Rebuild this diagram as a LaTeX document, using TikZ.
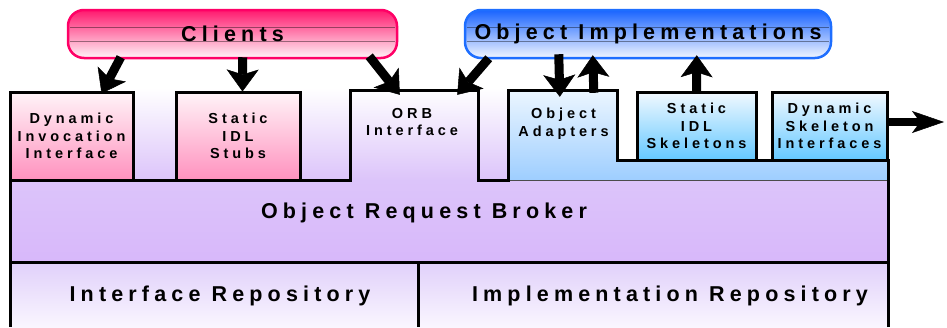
\documentclass[tikz,border=0pt]{standalone}
\usepackage{fontspec}
\setmainfont{Liberation Sans}
\newfontfamily\biglbl{Liberation Sans}[LetterSpace=24]
\newfontfamily\boxlbl{Liberation Sans}[LetterSpace=27]
\usetikzlibrary{arrows.meta,calc}

\definecolor{clientpink}{RGB}{255,0,102}
\definecolor{clienttop}{RGB}{255,25,110}
\definecolor{clientpale}{RGB}{255,244,248}
\definecolor{implblue}{RGB}{30,110,255}
\definecolor{impltop}{RGB}{25,100,255}
\definecolor{implpale}{RGB}{242,246,255}
\definecolor{stubpink}{RGB}{255,145,190}
\definecolor{stubpale}{RGB}{255,244,248}
\definecolor{skelblue}{RGB}{100,200,255}
\definecolor{skelpale}{RGB}{242,249,255}
\definecolor{adaptpale}{RGB}{236,246,255}
\definecolor{adaptblue}{RGB}{158,206,255}
\definecolor{lavlight}{RGB}{220,196,250}
\definecolor{lavmid}{RGB}{196,144,250}
\definecolor{lavlow}{RGB}{216,184,250}
\definecolor{repotop}{RGB}{224,208,250}
\definecolor{repobot}{RGB}{250,246,255}

\tikzset{
  bubble/.style={draw, line width=2.5pt, rounded corners=16pt, inner sep=0pt,
    font=\biglbl\bfseries\fontsize{21.5}{25}\selectfont},
  clientbubble/.style={bubble, draw=clientpink, top color=clienttop, bottom color=clientpale},
  implbubble/.style={bubble, draw=implblue, top color=impltop, bottom color=implpale},
  seam/.style={line width=0.7pt, black, opacity=0.4},
  boxtext/.style={align=center, inner sep=0pt,
    font=\boxlbl\bfseries\fontsize{14.5}{17.5}\selectfont},
  stubbox/.style={boxtext, draw, line width=3pt, top color=stubpale, bottom color=stubpink},
  skelbox/.style={boxtext, draw, line width=3pt, top color=skelpale, bottom color=skelblue},
  region/.style={inner sep=0pt},
  bandtext/.style={inner sep=0pt, font=\biglbl\bfseries\fontsize{21.5}{25}\selectfont},
  outline/.style={line width=3pt, line join=miter},
  fatarrow/.style={line width=9pt,
    -{Stealth[width=32pt,length=22pt,inset=5pt,line width=0.5pt]}},
  sidearrow/.style={line width=8pt,
    -{Stealth[width=22pt,length=32pt,inset=8pt,line width=0.5pt]}},
}

\begin{document}
\begin{tikzpicture}[x=1pt,y=-1pt]
\useasboundingbox (0,0) rectangle (947,327);

% shaded layers of the broker
\shade[top color=white, bottom color=lavlight] (10,88) rectangle (508,180);
\shade[top color=lavlight, middle color=lavmid, bottom color=lavlow] (10,180) rectangle (888,262);
\shade[top color=repotop, bottom color=repobot] (10,262) rectangle (888,327);
\shade[top color=adaptpale, bottom color=adaptblue]
  (508,90) -- (617,90) -- (617,160) -- (888,160) -- (888,180) -- (508,180) -- cycle;
\draw[line width=0.8pt, black!70] (508,180) -- (888,180);

% outline of the broker with the ORB interface and object adapter tabs
\draw[outline] (10,327) -- (10,180) -- (350,180) -- (350,90) -- (478,90) -- (478,180)
  -- (508,180) -- (508,90) -- (617,90) -- (617,160) -- (888,160) -- (888,327);
\draw[outline] (10,262) -- (888,262);
\draw[outline] (418,262) -- (418,327);

% regions carrying labels
\node[region, minimum width=128pt, minimum height=90pt] (orbif) at (414,135) {};
\node[region, minimum width=109pt, minimum height=90pt] (adapt) at (562.5,135) {};
\node[boxtext, anchor=north] at ([xshift=-2pt,yshift=-18pt]orbif.north) {ORB\\Interface};
\node[boxtext, anchor=north] at ([xshift=1pt,yshift=-18pt]adapt.north) {Object\\Adapters};

\node[bandtext] (orb) at (424,213) {Object Request Broker};
\node[bandtext] (ifr) at (220,296) {Interface Repository};
\node[bandtext] (imr) at (670,296) {Implementation Repository};

% client-side and server-side boxes
\node[stubbox, minimum width=123pt, minimum height=88pt] (dii) at (71.5,136) {Dynamic\\Invocation\\Interface};
\node[stubbox, minimum width=124pt, minimum height=88pt] (stubs) at (238,136) {Static\\IDL\\Stubs};
\node[skelbox, minimum width=119pt, minimum height=68pt] (skel) at (696.5,126) {Static\\IDL\\Skeletons};
\node[skelbox, minimum width=115pt, minimum height=68pt] (dskel) at (829.5,126) {Dynamic\\Skeleton\\Interfaces};

% top bubbles
\node[clientbubble, minimum width=329pt, minimum height=48pt] (clients) at (232.5,34) {Clients};
\node[implbubble, minimum width=366pt, minimum height=48pt] (impl) at (648,34) {Object Implementations};
\draw[seam] ($(clients.north west)+(3,19)$) -- ($(clients.north east)+(-3,19)$);
\draw[seam] ($(clients.north west)+(3,33)$) -- ($(clients.north east)+(-3,33)$);
\draw[seam] ($(impl.north west)+(3,19)$) -- ($(impl.north east)+(-3,19)$);
\draw[seam] ($(impl.north west)+(3,33)$) -- ($(impl.north east)+(-3,33)$);

% request and upcall arrows
\draw[fatarrow] ([xshift=54pt,yshift=2pt]clients.south west) -- ([xshift=93pt,yshift=-3pt]dii.north west);
\draw[fatarrow] ([xshift=176pt,yshift=2pt]clients.south west) -- ([xshift=68pt,yshift=-1pt]stubs.north west);
\draw[fatarrow] ([xshift=-29pt,yshift=3pt]clients.south east) -- ([xshift=50pt,yshift=-5pt]orbif.north west);
\draw[fatarrow] ([xshift=25pt,yshift=1pt]impl.south west) -- ([xshift=-21pt,yshift=-5pt]orbif.north east);
\draw[fatarrow] ([xshift=95pt,yshift=5pt]impl.south west) -- ([xshift=52pt,yshift=-7pt]adapt.north west);
\draw[fatarrow] ([xshift=86pt,yshift=-3pt]adapt.north west) -- ([xshift=129pt,yshift=4pt]impl.south west);
\draw[fatarrow] ([xshift=61pt,yshift=-1pt]skel.north west) -- ([xshift=233pt,yshift=4pt]impl.south west);
\coordinate (dsiout) at (944,122);
\draw[sidearrow] ([yshift=4pt]dskel.east) -- (dsiout);
\end{tikzpicture}
\end{document}
